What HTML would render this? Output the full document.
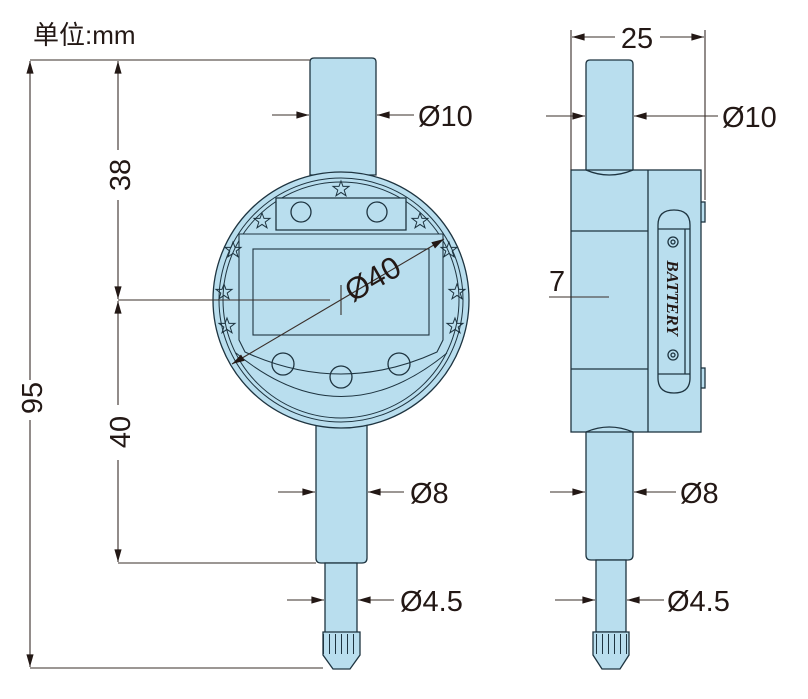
<!DOCTYPE html>
<html><head><meta charset="utf-8"><style>
html,body{margin:0;padding:0;background:#fff;}
svg{display:block;}
text{font-family:"Liberation Sans","Noto Sans CJK SC",sans-serif;fill:#231815;}
</style></head><body>
<svg width="808" height="699" viewBox="0 0 808 699" xmlns="http://www.w3.org/2000/svg">
<defs>
<marker id="a" viewBox="0 0 14 10" refX="14" refY="5" markerWidth="14" markerHeight="9" orient="auto-start-reverse" markerUnits="userSpaceOnUse"><path d="M0,1 L14,5 L0,9 z" fill="#231815"/></marker>
<g id="star"><path d="M0,-8 L2,-2.6 L8,-2.6 L3.2,1.1 L5,6.8 L0,3.4 L-5,6.8 L-3.2,1.1 L-8,-2.6 L-2,-2.6 z" fill="none" stroke="#1e3440" stroke-width="1"/></g>
</defs>
<g fill="#b9deee" stroke="#1e3440" stroke-width="1.3">
<path d="M310,175 L310,62 Q310,58 314,58 L372,58 Q376,58 376,62 L376,175 z"/>
<path d="M316,425 L367,425 L367,558 Q367,563 362,563 L321,563 Q316,563 316,558 z"/>
<rect x="325" y="563" width="32" height="70"/>
<path d="M323,632 L360,632 L360,655 L350,669 L333,669 L323,655 z"/>
<circle cx="341" cy="300" r="128"/>
<circle cx="341" cy="300" r="122" fill="none" stroke-width="1"/>
<circle cx="341" cy="300" r="118" fill="none" stroke-width="1"/>
<path d="M276,230 L276,198 L406,198 L406,230 z"/>
<path d="M247,234 L443,234 L443,340 L437,352 Q341,396 245,352 L239,340 L239,234 z" stroke-width="1.1"/>
<rect x="253" y="249" width="176" height="86" stroke-width="1.1"/>
<path d="M236,353 Q341,440 447,353" fill="none" stroke-width="1"/>
<circle cx="301" cy="212" r="10" fill="none"/><circle cx="377" cy="212" r="10" fill="none"/>
<circle cx="283" cy="364" r="11" fill="none"/><circle cx="341" cy="377" r="11" fill="none"/><circle cx="399" cy="364" r="11" fill="none"/>
<path d="M586,175 L586,64 Q586,60 590,60 L629,60 Q633,60 633,64 L633,175 z"/>
<path d="M586,430 L633,430 L633,555 Q633,560 628,560 L591,560 Q586,560 586,555 z"/>
<rect x="596" y="560" width="30" height="72"/>
<path d="M593,632 L629,632 L629,655 L620,669 L602,669 L593,655 z"/>
<rect x="700" y="202" width="5" height="20"/><rect x="700" y="368" width="5" height="20"/>
<rect x="571" y="170" width="130" height="262"/>
<path d="M586,170 Q609,180 633,170 M586,432 Q609,422 633,432" fill="none"/>
<line x1="648" y1="170" x2="648" y2="432"/>
<line x1="571" y1="231" x2="648" y2="231"/>
<line x1="571" y1="369" x2="648" y2="369"/>
<path d="M658,225 Q658,210 674,210 Q690,210 690,225 L690,378 Q690,393 674,393 Q658,393 658,378 z"/>
<line x1="658" y1="229" x2="690" y2="229"/><line x1="658" y1="374" x2="690" y2="374"/>
<line x1="685" y1="229" x2="685" y2="374"/>
<circle cx="673" cy="242" r="5" fill="none"/><circle cx="673" cy="242" r="2" fill="none"/>
<circle cx="673" cy="355" r="5" fill="none"/><circle cx="673" cy="355" r="2" fill="none"/>
</g>
<g fill="#1e3440" stroke="none">
<rect x="323" y="634" width="1" height="20"/><rect x="329" y="634" width="1" height="20"/><rect x="335" y="634" width="1" height="20"/><rect x="341" y="634" width="1" height="20"/><rect x="347" y="634" width="1" height="20"/><rect x="353" y="634" width="1" height="20"/>
<rect x="596" y="634" width="1" height="20"/><rect x="602" y="634" width="1" height="20"/><rect x="608" y="634" width="1" height="20"/><rect x="614" y="634" width="1" height="20"/><rect x="620" y="634" width="1" height="20"/><rect x="626" y="634" width="1" height="20"/>
</g>
<use href="#star" x="341" y="189"/><use href="#star" x="262" y="221"/><use href="#star" x="420" y="221"/>
<use href="#star" x="233" y="250"/><use href="#star" x="449" y="250"/><use href="#star" x="224" y="292"/><use href="#star" x="457" y="292"/>
<use href="#star" x="227" y="326"/><use href="#star" x="455" y="326"/>
<text x="0" y="0" transform="translate(667,298) rotate(90)" font-size="17" font-weight="bold" font-style="italic" text-anchor="middle" style="font-family:'Liberation Serif',serif">BATTERY</text>
<g stroke="#3a2f2a" stroke-width="1.1" fill="none">
<line x1="30" y1="60" x2="310" y2="60"/>
<line x1="118" y1="300" x2="330" y2="300"/>
<line x1="118" y1="563" x2="316" y2="563"/>
<line x1="30" y1="668" x2="323" y2="668"/>
<line x1="30" y1="380" x2="30" y2="61" marker-end="url(#a)"/>
<line x1="30" y1="420" x2="30" y2="667" marker-end="url(#a)"/>
<line x1="118" y1="150" x2="118" y2="61" marker-end="url(#a)"/>
<line x1="118" y1="200" x2="118" y2="299" marker-end="url(#a)"/>
<line x1="118" y1="405" x2="118" y2="301" marker-end="url(#a)"/>
<line x1="118" y1="460" x2="118" y2="562" marker-end="url(#a)"/>
<line x1="232" y1="364" x2="444" y2="239" marker-start="url(#a)" marker-end="url(#a)"/>
<line x1="341" y1="285" x2="341" y2="315"/>
<line x1="272" y1="115" x2="309" y2="115" marker-end="url(#a)"/>
<line x1="414" y1="115" x2="377" y2="115" marker-end="url(#a)"/>
<line x1="278" y1="492" x2="315" y2="492" marker-end="url(#a)"/>
<line x1="404" y1="492" x2="368" y2="492" marker-end="url(#a)"/>
<line x1="287" y1="600" x2="324" y2="600" marker-end="url(#a)"/>
<line x1="394" y1="600" x2="358" y2="600" marker-end="url(#a)"/>
<line x1="571" y1="30" x2="571" y2="170"/>
<line x1="705" y1="30" x2="705" y2="200"/>
<line x1="615" y1="37" x2="572" y2="37" marker-end="url(#a)"/>
<line x1="660" y1="37" x2="704" y2="37" marker-end="url(#a)"/>
<line x1="546" y1="116" x2="585" y2="116" marker-end="url(#a)"/>
<line x1="718" y1="116" x2="634" y2="116" marker-end="url(#a)"/>
<line x1="549" y1="297" x2="609" y2="297"/>
<line x1="550" y1="492" x2="585" y2="492" marker-end="url(#a)"/>
<line x1="676" y1="492" x2="634" y2="492" marker-end="url(#a)"/>
<line x1="555" y1="600" x2="595" y2="600" marker-end="url(#a)"/>
<line x1="664" y1="600" x2="627" y2="600" marker-end="url(#a)"/>
</g>
<text x="33" y="44" font-size="26">单位:mm</text>
<text x="418" y="126" font-size="29">Ø10</text>
<text x="722" y="127" font-size="29">Ø10</text>
<text x="410" y="503" font-size="29">Ø8</text>
<text x="680" y="503" font-size="29">Ø8</text>
<text x="400" y="611" font-size="29">Ø4.5</text>
<text x="667" y="611" font-size="29">Ø4.5</text>
<text x="637" y="48" font-size="29" text-anchor="middle">25</text>
<text x="549" y="291" font-size="29">7</text>
<text transform="translate(130,175) rotate(-90)" font-size="29" text-anchor="middle">38</text>
<text transform="translate(130,432) rotate(-90)" font-size="29" text-anchor="middle">40</text>
<text transform="translate(42,398) rotate(-90)" font-size="29" text-anchor="middle">95</text>
<text transform="translate(378,288) rotate(-30)" font-size="31" text-anchor="middle">Ø40</text>
</svg>
</body></html>
